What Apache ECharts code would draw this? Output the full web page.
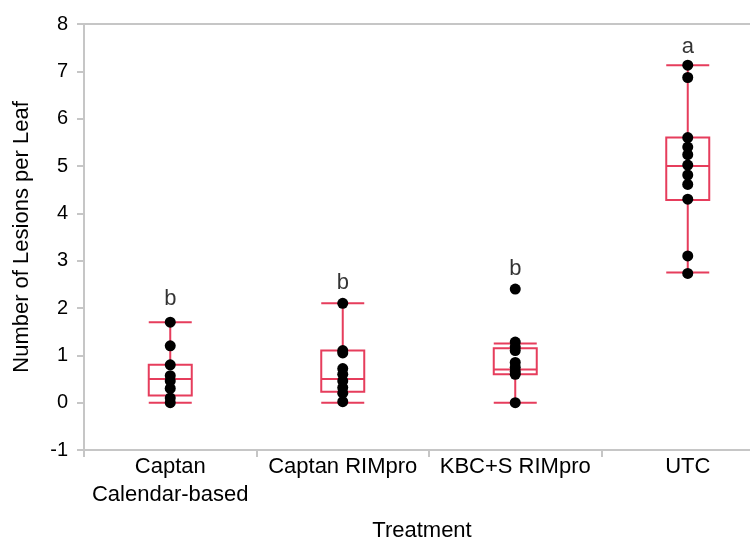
<!DOCTYPE html>
<html>
<head>
<meta charset="utf-8">
<script src="https://cdn.jsdelivr.net/npm/echarts@6/dist/echarts.min.js"></script>
<style>html,body{margin:0;padding:0;background:#fff;overflow:hidden;}#c{width:774px;height:547px;}</style>
</head>
<body>
<div id="c"></div>
<script>
// Data
var categories = ['Captan\nCalendar-based', 'Captan RIMpro', 'KBC+S RIMpro', 'UTC'];
// [min, Q1, median, Q3, max]
var boxCaptanCal = [0, 0.15, 0.5, 0.8, 1.7];
var boxCaptanRIM = [0, 0.23, 0.5, 1.1, 2.1];
var boxKBCS = [0, 0.6, 0.7, 1.15, 1.25];
var boxUTC = [2.75, 4.28, 5.0, 5.6, 7.13];
var ptsCaptanCal = [1.7, 1.2, 0.8, 0.57, 0.46, 0.3, 0.1, 0];
var ptsCaptanRIM = [2.1, 1.1, 1.05, 0.72, 0.6, 0.46, 0.32, 0.2, 0.02];
var ptsKBCS = [2.4, 1.28, 1.18, 1.1, 0.85, 0.75, 0.66, 0.6, 0];
var ptsUTC = [7.13, 6.87, 5.6, 5.4, 5.24, 5.02, 4.81, 4.61, 4.3, 3.1, 2.73];
var letters = ['b', 'b', 'b', 'a'];
var letterY = [2.2, 2.53, 2.83, 7.52];
var yTicks = {min: -1, max: 8, interval: 1};

var boxData = [boxCaptanCal, boxCaptanRIM, boxKBCS, boxUTC];
var ptsAll = [ptsCaptanCal, ptsCaptanRIM, ptsKBCS, ptsUTC];
var scatterData = [];
ptsAll.forEach(function (arr, i) { arr.forEach(function (v) { scatterData.push([i, v]); }); });
var letterData = letters.map(function (l, i) { return {value: [i, letterY[i]], name: l}; });

var RED = '#e63d5c';
var GRAY = '#c6c6c6';
var FONT = 'Liberation Sans, Arial, sans-serif';

var chart = echarts.init(document.getElementById('c'));
chart.setOption({
  animation: false,
  backgroundColor: '#fff',
  grid: {left: 84, right: 0, top: 24, bottom: 88, show: true, borderColor: GRAY, borderWidth: 2, backgroundColor: 'transparent'},
  xAxis: {
    type: 'category', data: categories, boundaryGap: true,
    name: 'Treatment', nameLocation: 'middle', nameGap: 70,
    nameTextStyle: {fontSize: 22, color: '#000', fontFamily: FONT, padding: [0, 14, 0, 0]},
    axisLine: {onZero: false, lineStyle: {color: GRAY, width: 2}},
    axisTick: {show: true, length: 7, lineStyle: {color: GRAY, width: 2}},
    axisLabel: {fontSize: 22, color: '#000', fontFamily: FONT, lineHeight: 28, margin: 3, interval: 0}
  },
  yAxis: {
    type: 'value', min: yTicks.min, max: yTicks.max, interval: yTicks.interval,
    name: 'Number of Lesions per Leaf', nameLocation: 'middle', nameGap: 51, nameRotate: 90,
    nameTextStyle: {fontSize: 22, color: '#000', fontFamily: FONT},
    axisLine: {show: true, lineStyle: {color: GRAY, width: 2}},
    axisTick: {show: true, length: 7, lineStyle: {color: GRAY, width: 2}},
    axisLabel: {fontSize: 20, color: '#000', fontFamily: FONT, margin: 16},
    splitLine: {show: false}
  },
  series: [
    {
      type: 'boxplot', data: boxData, boxWidth: [43, 43],
      itemStyle: {color: 'transparent', borderColor: RED, borderWidth: 2},
      z: 2
    },
    {
      type: 'scatter', data: scatterData, symbol: 'circle', symbolSize: 11,
      itemStyle: {color: '#000', opacity: 1}, z: 3
    },
    {
      type: 'scatter', data: letterData, symbolSize: 0,
      label: {show: true, position: 'inside', formatter: function (p) { return p.name; },
        fontSize: 22, color: '#000', fontFamily: FONT}, z: 4
    }
  ]
});
</script>
</body>
</html>
